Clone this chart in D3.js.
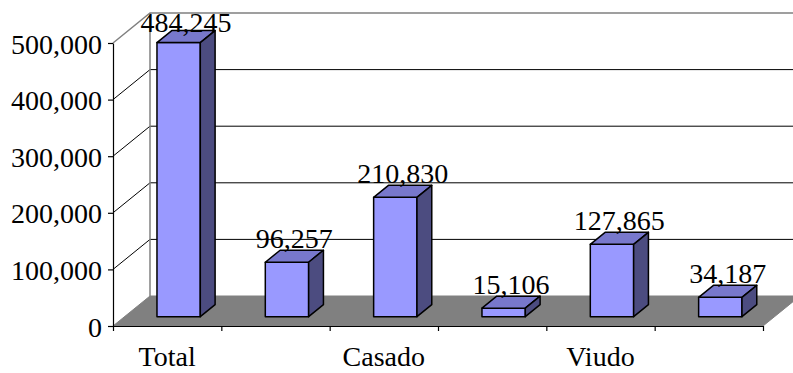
<!DOCTYPE html>
<html>
<head>
<meta charset="utf-8">
<script src="https://cdn.jsdelivr.net/npm/d3@7/dist/d3.min.js"></script>
<style>
  html, body { margin: 0; padding: 0; background: #fff; }
  svg { display: block; }
  text { font-family: "Liberation Serif", "Times New Roman", serif; font-size: 28px; fill: #000; }
</style>
</head>
<body>
<svg id="chart" width="793" height="373"></svg>
<script>
// Population by marital status
const categories = ["Total", "", "Casado", "", "Viudo", ""];
const values = [484245, 96257, 210830, 15106, 127865, 34187];
const yTicks = [0, 100000, 200000, 300000, 400000, 500000];

const W = 793, H = 373;
const plot = { left: 113, right: 763, bottom: 326, top: 43 };
const depth = { dx: 37, dy: -30 };          // full floor depth (oblique projection)
const barFront = 0.31, barDepth = 0.40;      // bar position within the floor depth

const svg = d3.select("#chart");

const y = d3.scaleLinear().domain([0, 500000]).range([plot.bottom, plot.top]);
const x = d3.scaleBand().domain(d3.range(values.length))
  .range([plot.left, plot.right]).paddingInner(0.6).paddingOuter(0.3);
const xEdge = d3.scaleLinear().domain([0, values.length]).range([plot.left, plot.right]);

const backX = plot.left + depth.dx;
const farX = plot.right + depth.dx;

// floor
svg.append("path")
  .attr("d", d3.line()([
    [plot.left, plot.bottom], [plot.right, plot.bottom],
    [farX, plot.bottom + depth.dy], [backX, plot.bottom + depth.dy]
  ]) + "Z")
  .attr("fill", "#808080").attr("stroke", "#808080").attr("stroke-width", 1);

// gridlines on the side and back walls
yTicks.filter(v => v > 0).forEach(v => {
  const yy = y(v);
  const top = v === d3.max(yTicks);
  svg.append("path")
    .attr("d", d3.line()([[plot.left, yy], [backX, yy + depth.dy], [farX, yy + depth.dy]]))
    .attr("fill", "none")
    .attr("stroke", top ? "#808080" : "#000")
    .attr("stroke-width", top ? 1.5 : 1);
});

// back wall left edge
svg.append("line")
  .attr("x1", backX).attr("x2", backX)
  .attr("y1", y(500000) + depth.dy).attr("y2", plot.bottom + depth.dy)
  .attr("stroke", "#808080").attr("stroke-width", 1.5);

// y axis
const yAxis = svg.append("g")
  .attr("transform", `translate(${plot.left},0)`)
  .call(d3.axisLeft(y).tickValues(yTicks).tickFormat(d3.format(",")).tickSize(5).tickSizeOuter(0));
yAxis.selectAll("text").attr("x", -11).attr("dy", "0.36em")
  .style("font-family", "'Liberation Serif', serif").style("font-size", "28px").attr("fill", "#000");
yAxis.selectAll("line, path").attr("stroke", "#000").attr("stroke-width", 1.2);

// x axis (ticks at category boundaries)
const xAxis = svg.append("g")
  .attr("transform", `translate(0,${plot.bottom})`)
  .call(d3.axisBottom(xEdge).tickValues(d3.range(values.length + 1)).tickFormat("").tickSize(5).tickSizeOuter(0));
xAxis.selectAll("line, path").attr("stroke", "#000").attr("stroke-width", 1.2);

// category labels, centred in each category slot
svg.append("g").selectAll("text.cat")
  .data(categories)
  .join("text")
  .attr("class", "cat")
  .attr("x", (d, i) => (xEdge(i) + xEdge(i + 1)) / 2)
  .attr("y", 366)
  .attr("text-anchor", "middle")
  .text(d => d);

// 3D bars
const fdx = depth.dx * barFront, fdy = depth.dy * barFront;
const bdx = depth.dx * barDepth, bdy = depth.dy * barDepth;
const bw = x.bandwidth();

const bars = svg.append("g").selectAll("g.bar")
  .data(values)
  .join("g")
  .attr("class", "bar");

bars.each(function(v, i) {
  const g = d3.select(this);
  const x0 = x(i) + fdx, x1 = x0 + bw;
  const yt = y(v) + fdy, yb = y(0) + fdy;
  const line = d3.line();
  // front
  g.append("path").attr("d", line([[x0, yb], [x1, yb], [x1, yt], [x0, yt]]) + "Z")
    .attr("fill", "#9999ff").attr("stroke", "#000").attr("stroke-width", 1.5).attr("stroke-linejoin", "round");
  // top
  g.append("path").attr("d", line([[x0, yt], [x1, yt], [x1 + bdx, yt + bdy], [x0 + bdx, yt + bdy]]) + "Z")
    .attr("fill", "#7878cc").attr("stroke", "#000").attr("stroke-width", 1.5).attr("stroke-linejoin", "round");
  // side
  g.append("path").attr("d", line([[x1, yb], [x1 + bdx, yb + bdy], [x1 + bdx, yt + bdy], [x1, yt]]) + "Z")
    .attr("fill", "#4c4c80").attr("stroke", "#000").attr("stroke-width", 1.5).attr("stroke-linejoin", "round");
});

// value labels, kept inside the chart area at the top
svg.append("g").selectAll("text.val")
  .data(values)
  .join("text")
  .attr("class", "val")
  .attr("x", (v, i) => x(i) + fdx + bw / 2 + bdx / 2)
  .attr("y", v => Math.max(32, y(v) + fdy + bdy - 2.5))
  .attr("text-anchor", "middle")
  .text(v => d3.format(",")(v));
</script>
</body>
</html>
